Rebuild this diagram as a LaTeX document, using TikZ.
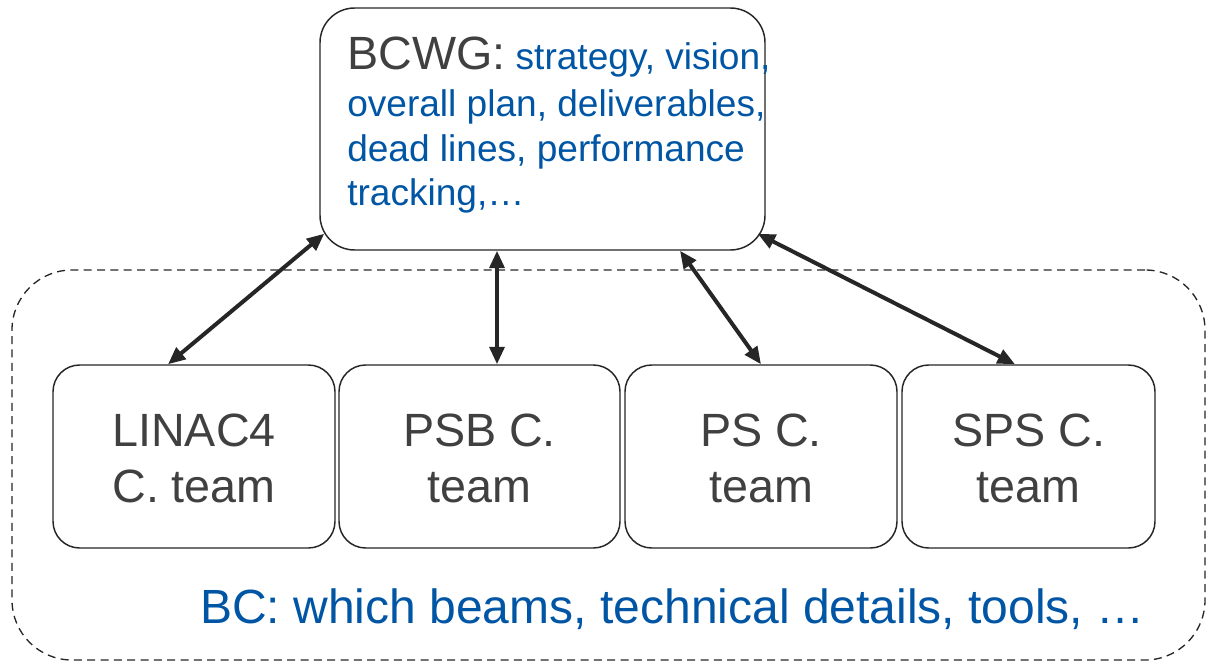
\documentclass[tikz,border=0pt]{standalone}
\usepackage{fontspec}
\setmainfont{Liberation Sans}
\usetikzlibrary{arrows.meta,calc}
\definecolor{txtgray}{RGB}{64,64,64}
\definecolor{bcblue}{RGB}{0,86,164}
\definecolor{linecol}{RGB}{38,38,38}
\begin{document}
\begin{tikzpicture}[x=0.75pt,y=-0.75pt,
  box/.style={draw=linecol,line width=1.1pt,fill=white,inner sep=0pt,rounded corners=20pt},
  teambox/.style={box,minimum height=137.25pt,align=center,text=txtgray,font=\fontsize{35}{42}\selectfont},
  link/.style={draw=linecol,line width=3pt,{Triangle[length=13pt,width=11pt]}-{Triangle[length=13pt,width=11pt]}},
  bluetext/.style={text=bcblue,font=\fontsize{27.8}{34}\selectfont,inner sep=0pt,anchor=base west},
  groupbox/.style={draw=linecol,line width=1pt,dash pattern=on 6pt off 4pt,rounded corners=45pt,inner sep=0pt},
]
\useasboundingbox (0,0) rectangle (1210,663);
% dashed group
\node[groupbox,minimum width=894.75pt,minimum height=292.5pt] (bc) at (608.5,465) {};
% top box
\node[box,rounded corners=26pt,minimum width=333.75pt,minimum height=181.5pt] (bcwg) at (542.5,129) {};
\node[bluetext] (l1) at (347,70) {{\color{txtgray}\fontsize{35}{41}\selectfont BCWG:} strategy, vision,};
\node[bluetext] (l2) at (347,117) {overall plan, deliverables,};
\node[bluetext] (l3) at (347,162) {dead lines, performance};
\node[bluetext] (l4) at (347,205) {tracking,…};
% team boxes
\node[teambox,minimum width=211.5pt] (lin) at (194,456.5) {\rule{0pt}{28pt}LINAC4\\C. team};
\node[teambox,minimum width=210.75pt] (psb) at (479.5,456.5) {\rule{0pt}{28pt}PSB C.\\team};
\node[teambox,minimum width=204pt] (ps) at (761,456.5) {\rule{0pt}{28pt}PS C.\\team};
\node[teambox,minimum width=189.75pt] (sps) at (1028.5,456.5) {\rule{0pt}{28pt}SPS C.\\team};
% bottom label
\node[bluetext,font=\fontsize{36}{40}\selectfont] (bctext) at (200,623) {BC: which beams, technical details, tools, …};
% links
\draw[link] ($(bcwg.south west)+(5,-17)$) -- ($(lin.north)+(-26,0)$);
\draw[link] ($(bcwg.south)+(-45.5,0)$) -- ($(psb.north)+(17.5,0)$);
\draw[link] ($(bcwg.south)+(137.5,0)$) -- ($(ps.north)+(0,0)$);
\draw[link] ($(bcwg.south east)+(-8,-17)$) -- ($(sps.north)+(-13.5,0)$);
\end{tikzpicture}
\end{document}
